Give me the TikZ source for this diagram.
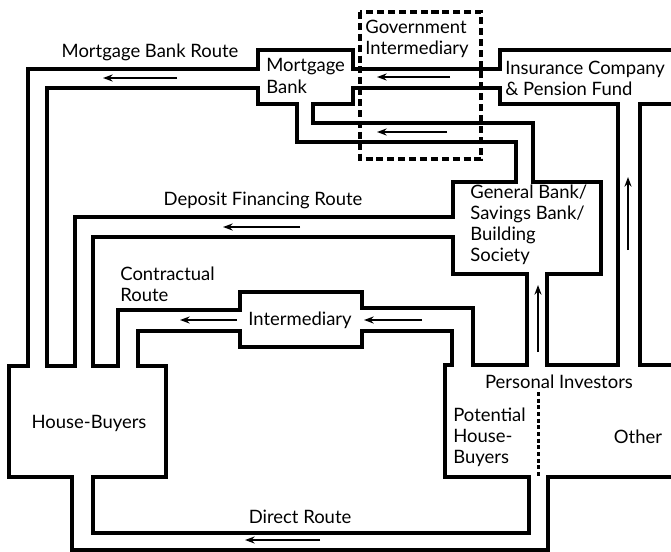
\documentclass[tikz,border=0pt]{standalone}
\usepackage{fontspec}
\setmainfont{Lato}
\usetikzlibrary{arrows.meta}
\begin{document}
\begin{tikzpicture}[x=0.02cm,y=-0.02cm]
\tikzstyle{every node}=[font=\fontsize{10.5}{12}\selectfont,inner sep=0pt,align=left];
\tikzstyle{wall}=[line width=1.9pt];
\tikzstyle{flow}=[line width=1pt,-{Stealth[length=5.5pt,width=4pt]}];
\tikzstyle{govline}=[line width=1.8pt,dash pattern=on 4pt off 2.2pt];
\tikzstyle{splitline}=[line width=1.7pt,dash pattern=on 2.3pt off 1.5pt];
\useasboundingbox (0,0) rectangle (671,551);
\draw[wall](671,50)--(500,50)--(500,69)--(353,69)--(353,50)--(258,50)--(258,69)--(28,69)--(28,366)--(9,366)--(9,477)--(72,477)--(72,550)--(548,550)--(548,477)--(671,477);
\draw[wall](47,366)--(47,88)--(258,88)--(258,104)--(297,104)--(297,142)--(516,142)--(516,182)--(453,182)--(453,217)--(75,217)--(75,366)--cycle;
\draw[wall](93,366)--(93,237)--(453,237)--(453,274)--(527,274)--(527,365)--(473,365)--(473,308)--(362,308)--(362,292)--(240,292)--(240,310)--(118,310)--(118,366)--cycle;
\draw[wall](138,366)--(166,366)--(166,477)--(93,477)--(93,533)--(529,533)--(529,477)--(445,477)--(445,365)--(452,365)--(452,331)--(362,331)--(362,347)--(240,347)--(240,331)--(138,331)--cycle;
\draw[wall](353,88)--(500,88)--(500,104)--(618,104)--(618,365)--(547,365)--(547,274)--(601,274)--(601,182)--(533,182)--(533,123)--(313,123)--(313,104)--(353,104)--cycle;
\draw[wall](671,104)--(640,104)--(640,365)--(671,365);
\draw[govline](360,12) rectangle (481,159);
\draw[splitline](538,392)--(538,477);
\node(mbroute) at (150,52) {Mortgage Bank Route};
\node(mbank)[anchor=west] at (266,76) {Mortgage\\Bank};
\node(gov)[anchor=west] at (365,39) {Government\\Intermediary};
\node(insur)[anchor=west] at (505,78) {Insurance Company\\\& Pension Fund};
\node(dfroute) at (263,200) {Deposit Financing Route};
\node(genbank)[anchor=west] at (470,225) {General Bank/\\Savings Bank/\\Building\\Society};
\node(contr)[anchor=west] at (120,284) {Contractual\\Route};
\node(interm) at (300,320) {Intermediary};
\node(buyers) at (89,423) {House-Buyers};
\node(persinv) at (559,382) {Personal Investors};
\node(potbuy)[anchor=west] at (453,437) {Potential\\House-\\Buyers};
\node(other) at (638,437) {Other};
\node(direct) at (300,517) {Direct Route};
\draw[flow](177,78)--(103,78);
\draw[flow](450,77)--(377,77);
\draw[flow](447,132)--(377,132);
\draw[flow](300,227)--(223,227);
\draw[flow](237,320)--(180,320);
\draw[flow](422,320)--(364,320);
\draw[flow](538,352)--(538,285);
\draw[flow](628,250)--(628,177);
\draw[flow](320,540)--(245,540);
\end{tikzpicture}
\end{document}
